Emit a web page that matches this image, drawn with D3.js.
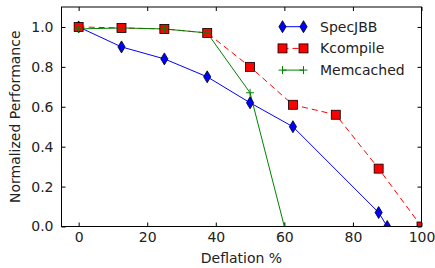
<!DOCTYPE html>
<html>
<head>
<meta charset="utf-8">
<script src="https://cdn.jsdelivr.net/npm/d3@7"></script>
<style>
  body { margin: 0; background: #fff; }
  text { font-family: "DejaVu Sans", sans-serif; fill: #222; }
</style>
</head>
<body>
<div id="chart"></div>
<script>
// data
var specX = [0, 12.5, 25, 37.5, 50, 62.5, 87.5, 90];
var specY = [1.0, 0.90, 0.84, 0.75, 0.62, 0.50, 0.07, 0.0];
var kcompX = [0, 12.5, 25, 37.5, 50, 62.5, 75, 87.5, 100];
var kcompY = [1.0, 0.995, 0.99, 0.97, 0.80, 0.61, 0.56, 0.29, 0.0];
var memX = [0, 12.5, 25, 37.5, 50, 60];
var memY = [0.99, 0.995, 0.99, 0.97, 0.67, 0.0];
var xTicks = [0, 20, 40, 60, 80, 100];
var yTicks = [0.0, 0.2, 0.4, 0.6, 0.8, 1.0];

var svgWidth = 435, svgHeight = 268;
var margin = {top: 7, right: 13.5, bottom: 41.5, left: 61.5};
var width = svgWidth - margin.left - margin.right;
var height = svgHeight - margin.top - margin.bottom;

var svg = d3.select("#chart").append("svg")
    .attr("width", svgWidth)
    .attr("height", svgHeight);

var chartGroup = svg.append("g")
    .attr("transform", `translate(${margin.left}, ${margin.top})`);

var x = d3.scaleLinear().domain([-5, 100]).range([0, width]);
var y = d3.scaleLinear().domain([0, 1.1]).range([height, 0]);

// clip so edge markers get cut like the original
svg.append("defs").append("clipPath").attr("id", "clip")
  .append("rect").attr("width", width).attr("height", height);

// axes with inward ticks on all sides
function tickAxis(axis, tr, labels) {
    var g = chartGroup.append("g").attr("transform", tr).call(axis);
    g.select(".domain").remove();
    g.selectAll("line").attr("stroke", "#000").attr("stroke-width", 1);
    g.selectAll("text").style("font-size", "14px").attr("fill", "#222");
    if (!labels) g.selectAll("text").remove();
    return g;
}
tickAxis(d3.axisBottom(x).tickValues(xTicks).tickSizeInner(-4).tickPadding(6), `translate(0, ${height})`, true);
tickAxis(d3.axisTop(x).tickValues(xTicks).tickSizeInner(-4), "translate(0,0)", false);
tickAxis(d3.axisLeft(y).tickValues(yTicks).tickSizeInner(-4).tickPadding(8).tickFormat(d3.format(".1f")), "translate(0,0)", true);
tickAxis(d3.axisRight(y).tickValues(yTicks).tickSizeInner(-4), `translate(${width},0)`, false);

var series = [
  {name: "SpecJBB", xs: specX, ys: specY, color: "#0000ff", dash: null, marker: "diamond"},
  {name: "Kcompile", xs: kcompX, ys: kcompY, color: "#ff0000", dash: "6,4", marker: "square"},
  {name: "Memcached", xs: memX, ys: memY, color: "#008000", dash: null, marker: "plus"}
];

function drawMarker(g, type, color) {
    if (type === "diamond") {
        g.append("path").attr("d", "M0,-6L3.6,0L0,6L-3.6,0Z")
          .attr("fill", color).attr("stroke", "#000").attr("stroke-width", 0.8);
    } else if (type === "square") {
        g.append("rect").attr("x", -4.5).attr("y", -4.5).attr("width", 9).attr("height", 9)
          .attr("fill", color).attr("stroke", "#000").attr("stroke-width", 0.8);
    } else {
        g.append("path").attr("d", "M-4,0H4M0,-4V4")
          .attr("stroke", color).attr("stroke-width", 1);
    }
}

var plot = chartGroup.append("g").attr("clip-path", "url(#clip)");
var line = d3.line().x(d => x(d[0])).y(d => y(d[1]));

series.forEach(function(s) {
    var pts = s.xs.map((v, i) => [v, s.ys[i]]);
    plot.append("path").datum(pts)
        .attr("d", line)
        .attr("fill", "none")
        .attr("stroke", s.color)
        .attr("stroke-width", 1)
        .attr("stroke-dasharray", s.dash);
});
series.forEach(function(s) {
    s.xs.forEach(function(v, i) {
        var g = plot.append("g").attr("transform", `translate(${x(v)}, ${y(s.ys[i])})`);
        drawMarker(g, s.marker, s.color);
    });
});

// frame
chartGroup.append("rect").attr("width", width).attr("height", height)
    .attr("fill", "none").attr("stroke", "#000").attr("stroke-width", 1);

// legend
var legend = chartGroup.append("g").attr("transform", "translate(221, 19.7)");
series.forEach(function(s, i) {
    var row = legend.append("g").attr("transform", `translate(0, ${i * 21.7})`);
    row.append("line").attr("x1", 0).attr("x2", 21).attr("y1", 0).attr("y2", 0)
        .attr("stroke", s.color).attr("stroke-width", 1).attr("stroke-dasharray", s.dash);
    drawMarker(row.append("g"), s.marker, s.color);
    drawMarker(row.append("g").attr("transform", "translate(21,0)"), s.marker, s.color);
    row.append("text").attr("x", 37.5).attr("y", 5).style("font-size", "14px").text(s.name);
});

// axis labels
chartGroup.append("text")
    .attr("transform", "rotate(-90)")
    .attr("x", -height / 2)
    .attr("y", -margin.left + 20)
    .attr("text-anchor", "middle")
    .style("font-size", "14px")
    .text("Normalized Performance");

chartGroup.append("text")
    .attr("x", width / 2)
    .attr("y", height + 36)
    .attr("text-anchor", "middle")
    .style("font-size", "14px")
    .text("Deflation %");
</script>
</body>
</html>
